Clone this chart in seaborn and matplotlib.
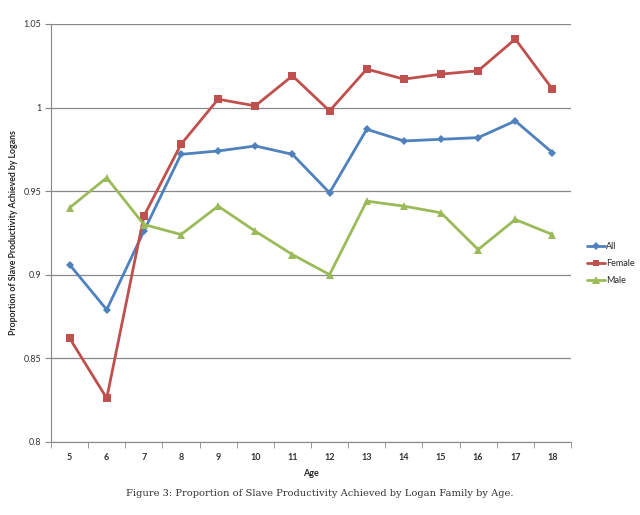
import numpy as np
import pandas as pd
import matplotlib
matplotlib.use('Agg')
import matplotlib.pyplot as plt
import seaborn as sns
from matplotlib.ticker import FixedLocator
from matplotlib.lines import Line2D

ages = [5, 6, 7, 8, 9, 10, 11, 12, 13, 14, 15, 16, 17, 18]
all_vals = [0.906, 0.879, 0.926, 0.972, 0.974, 0.977, 0.972, 0.949, 0.987, 0.980, 0.981, 0.982, 0.992, 0.973]
female_vals = [0.862, 0.826, 0.935, 0.978, 1.005, 1.001, 1.019, 0.998, 1.023, 1.017, 1.020, 1.022, 1.041, 1.011]
male_vals = [0.940, 0.958, 0.930, 0.924, 0.941, 0.926, 0.912, 0.900, 0.944, 0.941, 0.937, 0.915, 0.933, 0.924]
series_names = ['All', 'Female', 'Male']
y_ticks = [0.8, 0.85, 0.9, 0.95, 1.0, 1.05]
y_labels = ['0.8', '0.85', '0.9', '0.95', '1', '1.05']

df = pd.DataFrame({
    'Age': ages * 3,
    'value': all_vals + female_vals + male_vals,
    'series': [s for s in series_names for _ in ages],
})

sns.set_style('white')
plt.rcParams['font.family'] = ['Lato', 'DejaVu Sans']

palette = {'All': '#4F81BD', 'Female': '#C0504D', 'Male': '#9BBB59'}
markers = {'All': 'D', 'Female': 's', 'Male': '^'}
msizes = {'All': 4.5, 'Female': 5.5, 'Male': 6}

fig = plt.figure(figsize=(6.4, 5.15), dpi=100)
ax = fig.add_axes([0.0797, 0.1423, 0.8125, 0.8111])

# one call per series so each marker can get its own size
for s in series_names:
    sub = df[df['series'] == s]
    sns.lineplot(data=sub, x='Age', y='value', color=palette[s], marker=markers[s],
                 linewidth=2.0, markersize=msizes[s], markeredgewidth=0, ax=ax)

ax.set_xlim(4.5, 18.5)
ax.set_ylim(0.8, 1.05)
ax.set_yticks(y_ticks)
ax.set_yticklabels(y_labels, fontsize=6.5)
ax.set_xticks(ages)
ax.set_xticklabels([str(a) for a in ages], fontsize=6.5, fontweight='bold', color='#333333')
ax.xaxis.set_minor_locator(FixedLocator(np.arange(4.5, 19, 1)))
ax.tick_params(axis='x', which='major', length=0, pad=8)
ax.tick_params(axis='x', which='minor', length=4, color='#888888', direction='out', bottom=True)
ax.tick_params(axis='y', length=4, color='#888888', direction='out', left=True, pad=3)
for lab in ax.get_yticklabels():
    lab.set_color('#333333')

ax.grid(axis='y', color='#888888', linewidth=0.9)
ax.set_axisbelow(True)
for side in ['top', 'right']:
    ax.spines[side].set_visible(False)
ax.spines['left'].set_color('#888888')
ax.spines['bottom'].set_color('#888888')

ax.set_xlabel('Age', fontsize=6.5, fontweight='bold')
ax.xaxis.set_label_coords(0.5, -0.066)
ax.set_ylabel('Proportion of Slave Productivity Achieved by Logans', fontsize=6.3,
              fontweight='bold')
ax.yaxis.set_label_coords(-0.064, 0.5)

handles = [Line2D([], [], color=palette[s], marker=markers[s], linewidth=2.0,
                  markersize=msizes[s] - 0.5, markeredgewidth=0) for s in series_names]
fig.legend(handles, series_names, loc='center left', bbox_to_anchor=(0.912, 0.488),
           frameon=False, fontsize=6.5, handlelength=2.0, handletextpad=0.1,
           labelspacing=0.9, borderaxespad=0)

fig.text(0.5, 0.042, 'Figure 3: Proportion of Slave Productivity Achieved by Logan Family by Age.',
         ha='center', va='center', fontsize=7.1, family=['DejaVu Serif'], color='#333333')

fig.savefig('out.png', dpi=100)
